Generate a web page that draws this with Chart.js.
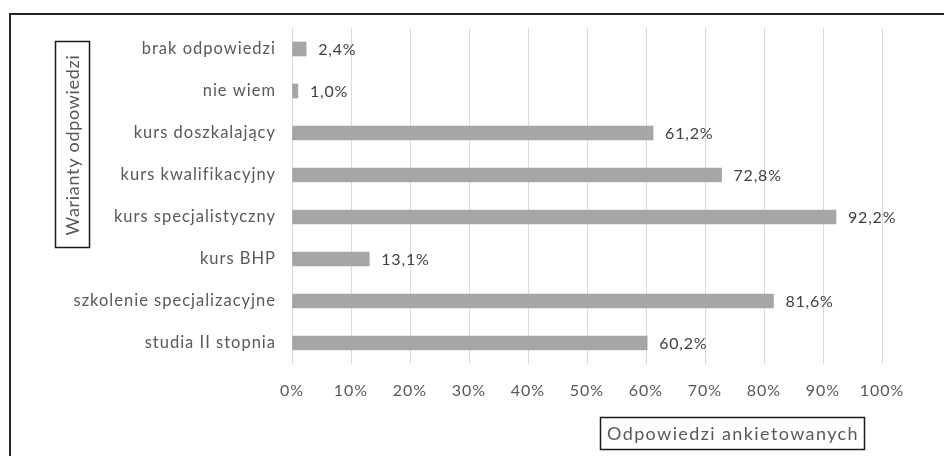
<!DOCTYPE html>
<html>
<head>
<meta charset="utf-8">
<script src="https://cdn.jsdelivr.net/npm/chart.js@4/dist/chart.umd.min.js"></script>
<style>
  html, body { margin: 0; padding: 0; background: #fff; }
  #wrap { width: 944px; height: 456px; }
</style>
</head>
<body>
<div id="wrap"><canvas id="c" width="944" height="456"></canvas></div>
<script>
const categories = ['brak odpowiedzi', 'nie wiem', 'kurs doszkalający', 'kurs kwalifikacyjny', 'kurs specjalistyczny', 'kurs BHP', 'szkolenie specjalizacyjne', 'studia II stopnia'];
const values = [2.4, 1.0, 61.2, 72.8, 92.2, 13.1, 81.6, 60.2];
const xMin = 0, xMax = 100, xStep = 10;
const xTitle = 'Odpowiedzi ankietowanych';
const yTitle = 'Warianty odpowiedzi';

const FONT = 'Lato';
const fmt = v => v.toFixed(1).replace('.', ',') + '%';

const decor = {
  id: 'decor',
  beforeDraw(chart) {
    const ctx = chart.ctx;
    ctx.save();
    ctx.fillStyle = '#fff';
    ctx.fillRect(0, 0, chart.width, chart.height);
    ctx.restore();
    ctx.letterSpacing = '1px';
  },
  afterDraw(chart) {
    const ctx = chart.ctx;
    ctx.save();
    // outer frame
    ctx.strokeStyle = '#262626';
    ctx.lineWidth = 2;
    ctx.strokeRect(10, 14, 1000, 1000);
    // x title box
    ctx.lineWidth = 1.5;
    ctx.strokeStyle = '#1a1a1a';
    ctx.strokeRect(600.5, 417.5, 264, 32);
    ctx.fillStyle = '#595959';
    ctx.font = '18px ' + FONT;
    ctx.letterSpacing = '1.4px';
    ctx.textAlign = 'center';
    ctx.textBaseline = 'middle';
    ctx.fillText(xTitle, 733, 434);
    // y title box
    ctx.strokeRect(55.5, 41.5, 34, 206);
    ctx.letterSpacing = '0.7px';
    ctx.translate(73, 145);
    ctx.rotate(-Math.PI / 2);
    ctx.fillText(yTitle, 0, 0);
    ctx.restore();
    ctx.letterSpacing = '0px';
  },
  afterDatasetsDraw(chart) {
    const ctx = chart.ctx;
    const meta = chart.getDatasetMeta(0);
    ctx.save();
    ctx.letterSpacing = '0.8px';
    ctx.fillStyle = '#404040';
    ctx.font = '16px ' + FONT;
    ctx.textAlign = 'left';
    ctx.textBaseline = 'middle';
    meta.data.forEach((el, i) => {
      ctx.fillText(fmt(values[i]), el.x + 12, el.y + 1);
    });
    ctx.restore();
  }
};

new Chart(document.getElementById('c'), {
  type: 'bar',
  data: {
    labels: categories,
    datasets: [{
      data: values,
      backgroundColor: '#a6a6a6',
      borderWidth: 0,
      barThickness: 14
    }]
  },
  options: {
    indexAxis: 'y',
    responsive: false,
    animation: false,
    devicePixelRatio: 1,
    layout: { padding: { left: 0, right: 62, top: 28, bottom: 0 } },
    plugins: { legend: { display: false }, tooltip: { enabled: false } },
    scales: {
      x: {
        min: xMin, max: xMax,
        ticks: {
          stepSize: xStep,
          callback: v => v + '%',
          color: '#595959',
          font: { family: FONT, size: 16 },
          padding: 17,
          maxRotation: 0
        },
        grid: { color: '#d9d9d9', lineWidth: 1, drawTicks: false },
        border: { display: false },
        afterFit(scale) { scale.height = 92; }
      },
      y: {
        ticks: {
          color: '#595959',
          font: { family: FONT, size: 16.5 },
          padding: 16
        },
        grid: { display: false, drawTicks: false },
        border: { display: false },
        afterFit(scale) { scale.width = 292; }
      }
    }
  },
  plugins: [decor]
});
</script>
</body>
</html>
